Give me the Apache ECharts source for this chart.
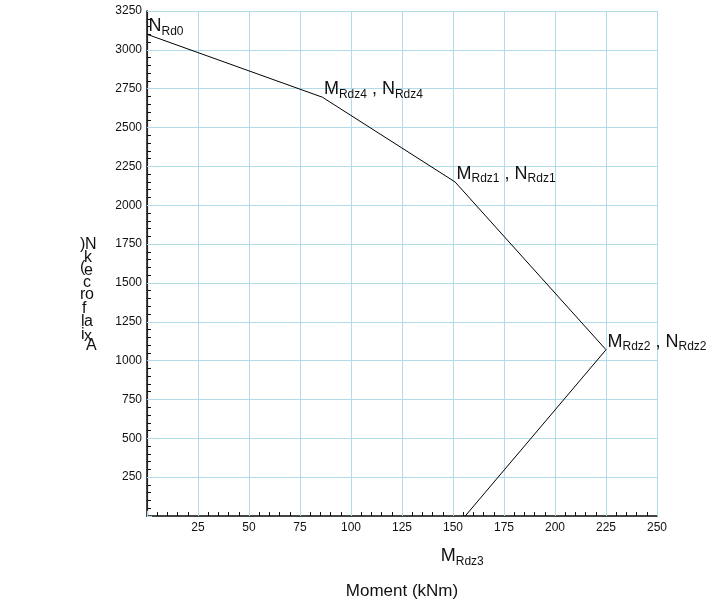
<!DOCTYPE html>
<html>
<head>
<meta charset="utf-8">
<script src="https://cdn.jsdelivr.net/npm/echarts@6/dist/echarts.min.js"></script>
<style>
  html, body { margin: 0; padding: 0; background: #fff; }
  #chart { width: 706px; height: 605px; }
</style>
</head>
<body>
<div id="chart"></div>
<script>
// Interaction diagram: axial force vs. bending moment
const moments = [0, 86, 151, 225, 156];          // kNm
const axialForces = [3100, 2695, 2150, 1070, 0]; // kN
const pointLabels = [
  [['N', 'Rd0']],
  [['M', 'Rdz4'], ['N', 'Rdz4']],
  [['M', 'Rdz1'], ['N', 'Rdz1']],
  [['M', 'Rdz2'], ['N', 'Rdz2']],
  [['M', 'Rdz3']]
];
const xTicks = [0, 25, 50, 75, 100, 125, 150, 175, 200, 225, 250];
const yTicks = [0, 250, 500, 750, 1000, 1250, 1500, 1750, 2000, 2250, 2500, 2750, 3000, 3250];
const xTitle = 'Moment (kNm)';
const yTitle = 'Axial force (kN)';

const FONT = '"Liberation Sans", Arial, sans-serif';
const GRID_COLOR = '#b3dcea';

function richLabel(parts) {
  return parts.map(p => '{m|' + p[0] + '}{s|' + p[1] + '}').join('{m| , }');
}

// Glyph placement of the stacked axis title (reversed characters)
const titleGlyphs = yTitle.split('').reverse().filter(c => c !== ' ');
const titleGlyphPos = [
  [80, 245], [85, 245], [84, 258], [80, 268], [84, 271], [83, 283],
  [80, 295], [85, 295], [82, 309], [81, 322], [84, 322], [81, 335],
  [84, 337], [86, 346]
];

const chart = echarts.init(document.getElementById('chart'), null, { renderer: 'canvas' });

const labelOffsets = [[2, -18.5], [2, -18.5], [2, -18.5], [2, -18.5], [-24, 30]];

const seriesData = moments.map((m, i) => ({
  value: [m, axialForces[i]],
  label: {
    show: true,
    position: labelOffsets[i],
    align: 'left',
    verticalAlign: 'top',
    formatter: richLabel(pointLabels[i])
  }
}));

const tickMinMax = (arr) => ({ min: arr[0], max: arr[arr.length - 1], interval: arr[1] - arr[0] });
const xr = tickMinMax(xTicks);
const yr = tickMinMax(yTicks);

chart.setOption({
  backgroundColor: '#fff',
  animation: false,
  textStyle: { fontFamily: FONT },
  grid: { left: 147, top: 11, width: 510, height: 509, containLabel: false },
  xAxis: [
    {
      type: 'value', position: 'bottom',
      min: xr.min, max: xr.max, interval: xr.interval,
      name: xTitle, nameLocation: 'middle', nameGap: 67,
      nameTextStyle: { fontSize: 17, color: '#111', fontFamily: FONT },
      axisLine: { show: true, lineStyle: { color: '#111', width: 1.5 } },
      axisTick: { show: true, inside: true, length: 5, lineStyle: { color: GRID_COLOR } },
      minorTick: { show: true, splitNumber: 5, length: 4, lineStyle: { color: '#111' } },
      axisLabel: {
        color: '#111', fontSize: 12, margin: 6, fontFamily: FONT,
        formatter: v => (v === 0 ? '' : String(v))
      },
      splitLine: { show: true, lineStyle: { color: GRID_COLOR, width: 1 } },
      minorSplitLine: { show: false }
    },
    {
      type: 'value', position: 'top',
      min: xr.min, max: xr.max, interval: xr.interval,
      axisLine: { show: true, lineStyle: { color: '#444', width: 1.5 } },
      axisTick: { show: false }, axisLabel: { show: false }, splitLine: { show: false }
    }
  ],
  yAxis: [
    {
      type: 'value', position: 'left',
      min: yr.min, max: yr.max, interval: yr.interval,
      axisLine: { show: true, lineStyle: { color: '#555', width: 1.2 } },
      axisTick: { show: true, inside: true, length: 5, lineStyle: { color: GRID_COLOR } },
      minorTick: { show: true, splitNumber: 5, length: 4, lineStyle: { color: '#111' } },
      axisLabel: {
        color: '#111', fontSize: 12, margin: 5, fontFamily: FONT,
        formatter: v => (v === 0 ? '' : String(v))
      },
      splitLine: { show: true, lineStyle: { color: GRID_COLOR, width: 1 } }
    },
    {
      type: 'value', position: 'right',
      min: yr.min, max: yr.max, interval: yr.interval,
      axisLine: { show: true, lineStyle: { color: '#111', width: 1.5 } },
      axisTick: { show: false }, axisLabel: { show: false }, splitLine: { show: false }
    }
  ],
  series: [
    {
      type: 'line',
      xAxisIndex: 0, yAxisIndex: 0,
      data: seriesData,
      symbol: 'circle', symbolSize: 1,
      itemStyle: { color: 'transparent' },
      lineStyle: { color: '#000', width: 1 },
      label: {
        color: '#111',
        fontFamily: FONT,
        rich: {
          m: { fontSize: 18, lineHeight: 22, color: '#111', fontFamily: FONT },
          s: { fontSize: 12, lineHeight: 10, verticalAlign: 'bottom', color: '#111', fontFamily: FONT }
        }
      },
      labelLayout: { hideOverlap: false },
      emphasis: { disabled: true },
      z: 5
    }
  ],
  graphic: titleGlyphs.map((c, i) => ({
    type: 'text',
    x: titleGlyphPos[i][0],
    y: titleGlyphPos[i][1],
    style: {
      text: c, fill: '#111', font: '16px ' + FONT,
      textAlign: 'left', textVerticalAlign: 'middle'
    }
  }))
});
</script>
</body>
</html>
